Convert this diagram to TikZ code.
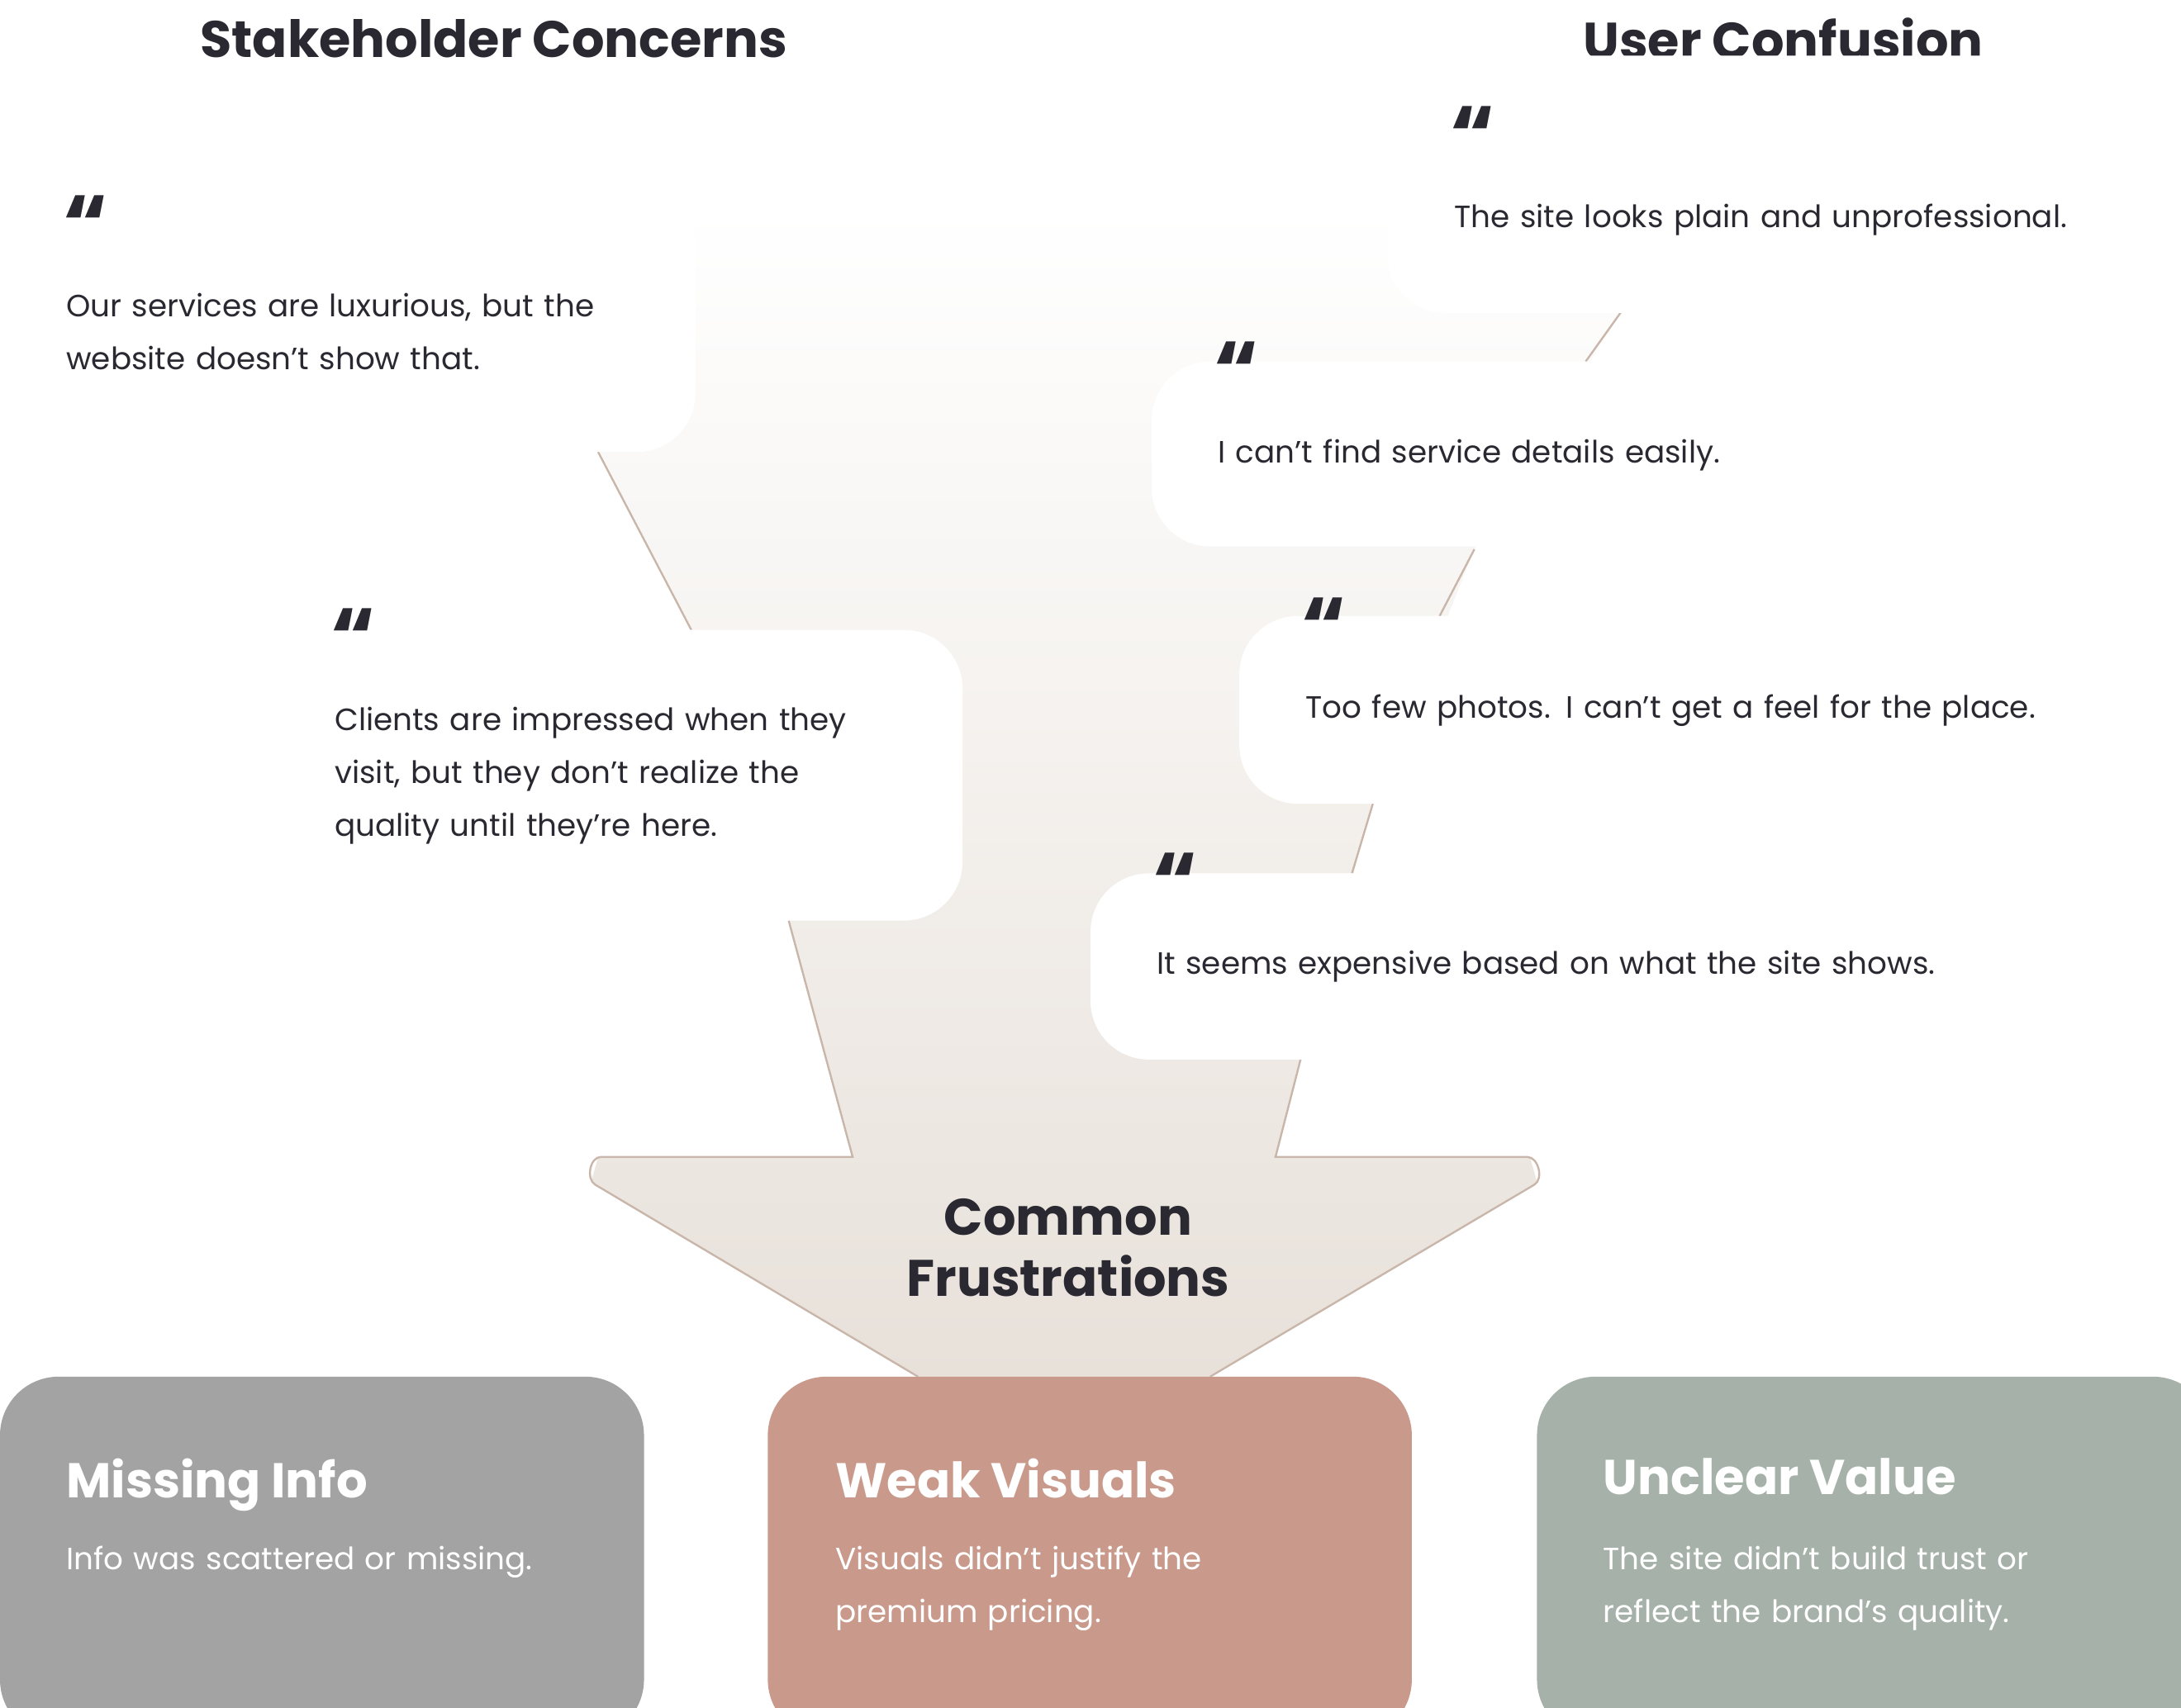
\documentclass[tikz,border=0pt]{standalone}
\usepackage{fontspec}
\setmainfont{Poppins}
\usetikzlibrary{positioning}
\definecolor{inkdark}{HTML}{2A2830}
\definecolor{funnelbeige}{HTML}{E8E1DA}
\definecolor{funnelline}{HTML}{C9B6AA}
\definecolor{infogray}{HTML}{A3A3A3}
\definecolor{visualrose}{HTML}{C99A8C}
\definecolor{valuesage}{HTML}{A5B1A9}
\tikzset{
  quotecard/.style={fill=white,rounded corners=12pt},
  quotemark/.style={anchor=north west,inner sep=0pt,font=\fontsize{17}{17}\selectfont\bfseries,text=inkdark},
  quotetext/.style={anchor=north west,inner sep=0pt,align=left,font=\fontsize{6.3}{10.8}\selectfont,text=inkdark},
  heading/.style={inner sep=0pt,font=\fontsize{10.5}{12}\selectfont\bfseries,text=inkdark},
  resultbox/.style={rounded corners=12pt},
  resulttitle/.style={anchor=north west,inner sep=0pt,font=\fontsize{10}{12}\selectfont\bfseries,text=white},
  resulttext/.style={anchor=north west,inner sep=0pt,align=left,font=\fontsize{6.3}{10.8}\selectfont,text=white},
}
\begin{document}
\begin{tikzpicture}[x=0.01cm,y=-0.01cm]
  \useasboundingbox (0,0) rectangle (1568,1228);

  % funnel
  \shade[top color=white,bottom color=funnelbeige,shading angle=0]
    (300,150) -- (1000,150) -- (1165,225) -- (1060,395) -- (987,578) -- (935,762) -- (917,832)
    -- (1100,832) -- (1105,850) -- (870,990) -- (660,990) -- (425,850) -- (430,832) -- (613,832)
    -- (567,662) -- (497,453) -- (430,325) -- cycle;
  \draw[funnelline,line width=0.4pt] (430,325) -- (497,453);
  \draw[funnelline,line width=0.4pt] (567,662) -- (613,832) -- (432,832) to[out=180,in=150] (428,852) -- (660,990);
  \draw[funnelline,line width=0.4pt] (870,990) -- (1103,852) to[out=30,in=0] (1098,832) -- (917,832) -- (935,762);
  \draw[funnelline,line width=0.4pt] (987,578) -- (972,628);
  \draw[funnelline,line width=0.4pt] (1060,395) -- (1035,443);
  \draw[funnelline,line width=0.4pt] (1165,225) -- (1140,260);

  % headings
  \node[heading] (stakeholderTitle) at (355,28) {Stakeholder Concerns};
  \node[heading] (userTitle) at (1282,28) {User Confusion};

  % stakeholder quotes
  \fill[quotecard] (-20,130) rectangle (500,325);
  \node[quotemark] (luxuryMark) at (45,140) {“};
  \node[quotetext,text width=440] (luxuryText) at (47,210) {Our services are luxurious, but the\\website doesn’t show that.};
  \fill[quotecard] (190,453) rectangle (692,662);
  \node[quotemark] (clientsMark) at (237,437) {“};
  \node[quotetext,text width=440] (clientsText) at (240,508) {Clients are impressed when they\\visit, but they don’t realize the\\quality until they’re here.};

  % user quotes
  \fill[quotecard] (997,40) rectangle (1600,225);
  \node[quotemark] (plainMark) at (1042,76) {“};
  \node[quotetext,text width=520] (plainText) at (1045,146) {The site looks plain and unprofessional.};
  \fill[quotecard] (828,260) rectangle (1600,393);
  \node[quotemark] (detailsMark) at (872,245) {“};
  \node[quotetext,text width=520] (detailsText) at (875,315) {I can’t find service details easily.};
  \fill[quotecard] (891,443) rectangle (1600,578);
  \node[quotemark] (photosMark) at (935,429) {“};
  \node[quotetext,text width=620] (photosText) at (938,499) {Too few photos. I can’t get a feel for the place.};
  \fill[quotecard] (784,628) rectangle (1600,762);
  \node[quotemark] (priceMark) at (828,613) {“};
  \node[quotetext,text width=620] (priceText) at (831,683) {It seems expensive based on what the site shows.};

  % common frustrations
  \node[heading,align=center,font=\fontsize{10.5}{12.5}\selectfont\bfseries] (commonTitle) at (768,897) {Common\\Frustrations};

  % results
  \fill[resultbox,infogray] (0,990) rectangle (463,1250);
  \node[resulttitle] (infoTitle) at (47,1048) {Missing Info};
  \node[resulttext,text width=400] (infoText) at (47,1111) {Info was scattered or missing.};
  \fill[resultbox,visualrose] (552,990) rectangle (1015,1250);
  \node[resulttitle] (visualTitle) at (600,1048) {Weak Visuals};
  \node[resulttext,text width=400] (visualText) at (600,1111) {Visuals didn’t justify the\\premium pricing.};
  \fill[resultbox,valuesage] (1105,990) rectangle (1590,1250);
  \node[resulttitle] (valueTitle) at (1152,1048) {Unclear Value};
  \node[resulttext,text width=400] (valueText) at (1152,1111) {The site didn’t build trust or\\reflect the brand’s quality.};
\end{tikzpicture}
\end{document}
